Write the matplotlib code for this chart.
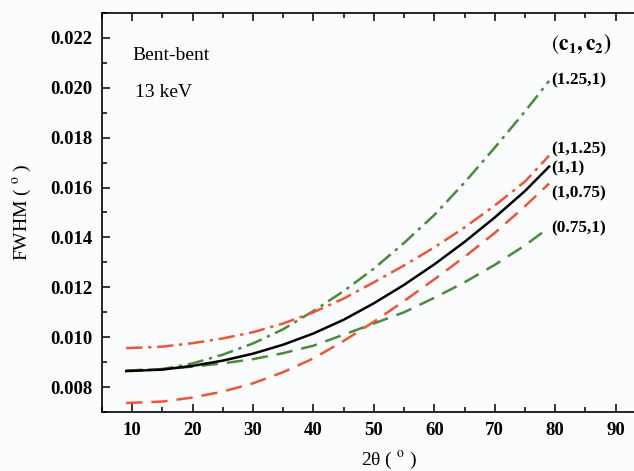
import matplotlib.pyplot as plt
from matplotlib.ticker import MultipleLocator

plt.rcParams['font.family'] = 'Liberation Serif'
plt.rcParams['mathtext.fontset'] = 'stix'

# 2theta (deg) and FWHM (deg) for each (c1, c2) pair
two_theta = [9, 15, 20, 25, 30, 35, 40, 45, 50, 55, 60, 65, 70, 75, 79]
fwhm_1_1 = [0.00864, 0.00870, 0.00885, 0.00906, 0.00934, 0.00970, 0.01015, 0.01070,
            0.01136, 0.01210, 0.01292, 0.01382, 0.01480, 0.01586, 0.01684]
fwhm_1_125 = [0.00956, 0.00962, 0.00976, 0.00995, 0.01020, 0.01055, 0.01100, 0.01155,
              0.01220, 0.01288, 0.01360, 0.01440, 0.01528, 0.01624, 0.01728]
fwhm_125_1 = [0.00866, 0.00872, 0.00895, 0.00930, 0.00975, 0.01032, 0.01105, 0.01185,
              0.01275, 0.01378, 0.01490, 0.01620, 0.01760, 0.01905, 0.02028]
fwhm_075_1 = [0.00866, 0.00872, 0.00882, 0.00895, 0.00912, 0.00936, 0.00966, 0.01010,
              0.01055, 0.01100, 0.01158, 0.01220, 0.01290, 0.01368, 0.01440]
fwhm_1_075 = [0.00736, 0.00742, 0.00758, 0.00782, 0.00815, 0.00860, 0.00915, 0.00985,
              0.01062, 0.01145, 0.01232, 0.01322, 0.01418, 0.01525, 0.01616]

red = '#ee5535'
green = '#4b8a3c'
dashdot = (0, (6.5, 2.3, 1.3, 2.3))
dashed = (0, (6.5, 3.6))

fig = plt.figure(figsize=(6.34, 4.71), dpi=100)
fig.patch.set_facecolor('#fbfcfd')
ax = fig.add_axes([102 / 634, 1 - 412 / 471, 574 / 634, 399 / 471])
ax.set_facecolor('#fbfcfd')

ax.plot(two_theta, fwhm_125_1, color=green, lw=1.8, ls=dashdot)
ax.plot(two_theta, fwhm_1_125, color=red, lw=1.8, ls=dashdot)
ax.plot(two_theta, fwhm_075_1, color=green, lw=1.8, ls=dashed)
ax.plot(two_theta, fwhm_1_075, color=red, lw=1.8, ls=dashed)
ax.plot(two_theta, fwhm_1_1, color='black', lw=1.8)

# curve labels at the right-hand ends
lx = 79.3
ax.text(lx, 0.02176, '$(\\mathbf{c}_\\mathbf{1}\\mathbf{,c}_\\mathbf{2}\\mathbf{)}$',
        fontsize=15.5, va='center', ha='left')
ax.text(lx, 0.02028, '(1.25,1)', fontsize=12.5, fontweight='bold', va='center')
ax.text(lx, 0.01752, '(1,1.25)', fontsize=12.5, fontweight='bold', va='center')
ax.text(lx, 0.01676, '(1,1)', fontsize=12.5, fontweight='bold', va='center')
ax.text(lx, 0.01576, '(1,0.75)', fontsize=12.5, fontweight='bold', va='center')
ax.text(lx, 0.01436, '(0.75,1)', fontsize=12.5, fontweight='bold', va='center')

ax.text(10, 0.02128, 'Bent-bent', fontsize=14, va='center')
ax.text(10.5, 0.01980, '13 keV', fontsize=14, va='center')

ax.set_xlim(5, 100)
ax.set_ylim(0.007, 0.023)
ax.xaxis.set_minor_locator(MultipleLocator(5))
ax.yaxis.set_minor_locator(MultipleLocator(0.001))
ax.set_xticks(range(10, 100, 10))
ax.set_yticks([0.008, 0.010, 0.012, 0.014, 0.016, 0.018, 0.020, 0.022])
ax.set_yticklabels(['0.008', '0.010', '0.012', '0.014', '0.016', '0.018', '0.020', '0.022'])

ax.tick_params(which='both', direction='in', top=True, right=False, width=1.1)
ax.tick_params(which='major', length=6, labelsize=13.5, pad=7)
ax.tick_params(which='minor', length=3.5)
for lab in ax.get_xticklabels() + ax.get_yticklabels():
    lab.set_fontweight('bold')
for s in ax.spines.values():
    s.set_linewidth(1.2)

ax.set_xlabel('2θ ( $^{\\mathrm{o}}$ )', fontsize=14)
ax.set_ylabel('FWHM ( $^{\\mathrm{o}}$ )', fontsize=14)
ax.xaxis.set_label_coords(0.5, -0.095)
ax.yaxis.set_label_coords(-0.12, 0.5)

fig.savefig('out.png', dpi=100, facecolor=fig.get_facecolor())
